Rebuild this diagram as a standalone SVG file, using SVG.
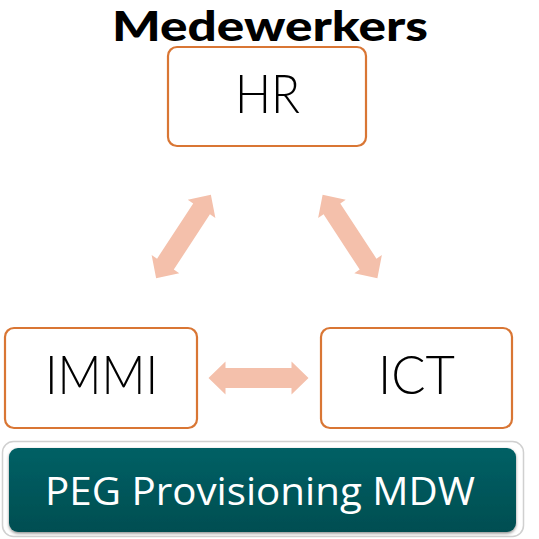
<svg xmlns="http://www.w3.org/2000/svg" width="539" height="539" viewBox="0 0 539 539">
<defs>
<style>
.box{fill:#ffffff;stroke:#D97634;stroke-width:2.2}
.lbl{font-family:Lato,"Open Sans","Liberation Sans",sans-serif;font-size:54px;font-weight:300;fill:#000;text-anchor:middle}
.arr{fill:#F4C0AB}
</style>
<path id="dbl" d="M-50,0 L-33,-16.5 L-33,-10 L33,-10 L33,-16.5 L50,0 L33,16.5 L33,10 L-33,10 L-33,16.5 Z"/>
<linearGradient id="teal" x1="0" y1="0" x2="0" y2="1">
<stop offset="0" stop-color="#056065"/>
<stop offset="1" stop-color="#024E51"/>
</linearGradient>
<filter id="sh" x="-5%" y="-10%" width="110%" height="130%">
<feDropShadow dx="0" dy="1.5" stdDeviation="1.5" flood-color="#000" flood-opacity="0.45"/>
</filter>
</defs>
<rect width="539" height="539" fill="#ffffff"/>
<text id="title" x="270" y="41" font-family="Lato,'Liberation Sans',sans-serif" font-size="41" font-weight="900" text-anchor="middle" fill="#000" textLength="316" lengthAdjust="spacingAndGlyphs">Medewerkers</text>
<g id="connectors">
<use href="#dbl" class="arr" transform="translate(258.5,378)"/>
<use href="#dbl" class="arr" transform="translate(183.5,236.5) rotate(-56.8)"/>
<use href="#dbl" class="arr" transform="translate(350,236.5) rotate(56.8)"/>
</g>
<g id="hr">
<rect class="box" x="168" y="47" width="198" height="99" rx="9"/>
<text class="lbl" x="267.5" y="113" textLength="65" lengthAdjust="spacingAndGlyphs">HR</text>
</g>
<g id="immi">
<rect class="box" x="5" y="328" width="192" height="100" rx="9"/>
<text class="lbl" x="101.5" y="394" textLength="113" lengthAdjust="spacingAndGlyphs">IMMI</text>
</g>
<g id="ict">
<rect class="box" x="321" y="328" width="191" height="100" rx="9"/>
<text class="lbl" x="416.5" y="394" textLength="77" lengthAdjust="spacingAndGlyphs">ICT</text>
</g>
<g id="peg">
<rect x="2.5" y="441.5" width="521" height="95" rx="11" fill="#ffffff" stroke="#d0d0d0" stroke-width="1.5"/>
<rect x="9" y="448" width="507" height="84" rx="9" fill="url(#teal)" filter="url(#sh)"/>
<text x="260" y="505" font-family="'Open Sans','Noto Sans',sans-serif" font-size="39" fill="#ffffff" text-anchor="middle" textLength="430" lengthAdjust="spacingAndGlyphs">PEG Provisioning MDW</text>
</g>
</svg>
